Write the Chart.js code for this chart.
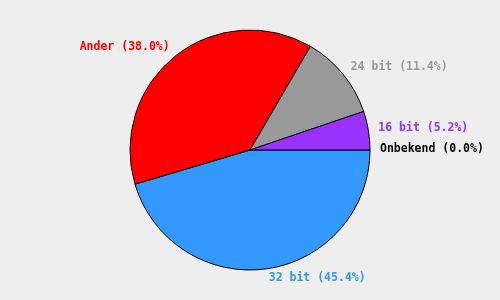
<!DOCTYPE html>
<html><head><meta charset="utf-8">
<script src="https://cdn.jsdelivr.net/npm/chart.js@4"></script>
<style>html,body{margin:0;padding:0;background:#eeeeee;}#wrap{width:500px;height:300px;}</style>
</head><body><div id="wrap"><canvas id="c" width="500" height="300"></canvas></div>
<script>
const categories = ["32 bit", "Ander", "24 bit", "16 bit", "Onbekend"];
const values = [45.4, 38.0, 11.4, 5.2, 0.0];
const sliceColors = ["#3399ff", "#ff0000", "#999999", "#9933ff", "#000000"];
const labelColors = ["#3399ff", "#ff0000", "#999999", "#9933ff", "#000000"];

const labelPlugin = {
  id: 'outLabels',
  afterDatasetsDraw(chart) {
    const ctx = chart.ctx;
    const meta = chart.getDatasetMeta(0);
    const total = values.reduce((a, b) => a + b, 0);
    ctx.save();
    ctx.font = 'bold 11.5px "DejaVu Sans Mono"';
    ctx.textBaseline = 'middle';
    meta.data.forEach((arc, i) => {
      const p = arc.getProps(['x', 'y', 'startAngle', 'endAngle', 'outerRadius'], true);
      const mid = (p.startAngle + p.endAngle) / 2;
      const r = p.outerRadius + 10;
      const x = p.x + r * Math.cos(mid);
      const y = p.y + r * Math.sin(mid) - 1;
      ctx.textAlign = Math.cos(mid) >= -0.001 ? 'left' : 'right';
      ctx.fillStyle = labelColors[i];
      const pct = (values[i] / total * 100).toFixed(1);
      ctx.fillText(categories[i] + ' (' + pct + '%)', x, y);
    });
    ctx.restore();
  }
};

new Chart(document.getElementById('c'), {
  type: 'pie',
  data: {
    labels: categories,
    datasets: [{
      data: values,
      backgroundColor: sliceColors,
      borderColor: '#000000',
      borderWidth: 1,
      radius: 120
    }]
  },
  options: {
    responsive: false,
    animation: false,
    rotation: 90,
    events: [],
    layout: { padding: 0 },
    plugins: { legend: { display: false }, tooltip: { enabled: false } }
  },
  plugins: [labelPlugin]
});
</script></body></html>
